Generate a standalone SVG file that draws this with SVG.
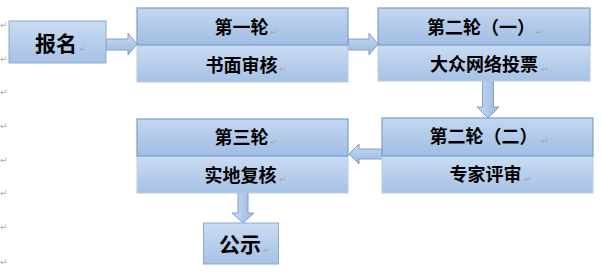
<svg xmlns="http://www.w3.org/2000/svg" width="601" height="275" viewBox="0 0 601 275">
<defs>
<linearGradient id="gBody" x1="0" y1="0" x2="0" y2="1">
<stop offset="0" stop-color="#cadcf2"/>
<stop offset="1" stop-color="#a6c1e5"/>
</linearGradient>
<linearGradient id="gHead" x1="0" y1="0" x2="0" y2="1">
<stop offset="0" stop-color="#c3d7f0"/>
<stop offset="1" stop-color="#a0bde3"/>
</linearGradient>
<linearGradient id="gArrH" x1="0" y1="0" x2="0" y2="1">
<stop offset="0" stop-color="#c9dbf2"/>
<stop offset="1" stop-color="#99b8df"/>
</linearGradient>
<linearGradient id="gArrV" x1="0" y1="0" x2="1" y2="0">
<stop offset="0" stop-color="#c9dbf2"/>
<stop offset="1" stop-color="#99b8df"/>
</linearGradient>
</defs>
<style>
.body{fill:url(#gBody);stroke:#b9cde8;stroke-width:1}
.head{fill:url(#gHead);stroke:#7d9dcb;stroke-width:1.2}
.single{fill:url(#gBody);stroke:#8aa9d3;stroke-width:1}
.arrH{fill:url(#gArrH);stroke:#7f9fcc;stroke-width:1}
.arrV{fill:url(#gArrV);stroke:#7f9fcc;stroke-width:1}
.t{font-family:"Noto Sans CJK SC","Noto Sans CJK JP",sans-serif;font-weight:bold;fill:#000;text-anchor:middle}
.t18{font-size:18px}
.t21{font-size:21px}
.pm{font-family:"DejaVu Sans",sans-serif;font-size:9px;fill:#a8a8a8}
</style>

<g id="margin-marks">
<text class="pm" x="0" y="28">↵</text>
<text class="pm" x="0" y="62">↵</text>
<text class="pm" x="0" y="95">↵</text>
<text class="pm" x="0" y="129">↵</text>
<text class="pm" x="0" y="163">↵</text>
<text class="pm" x="0" y="196">↵</text>
<text class="pm" x="0" y="230">↵</text>
<text class="pm" x="0" y="265">↵</text>
</g>

<g id="connectors">
<polygon class="arrH" points="106,39 128,39 128,33 137,44 128,55 128,50 106,50"/>
<polygon class="arrH" points="348,39 369,39 369,33 378,44 369,55 369,50 348,50"/>
<polygon class="arrV" points="482.5,81 493.5,81 493.5,107 499,107 488,118 477,107 482.5,107"/>
<polygon class="arrH" points="382,149 359,149 359,144 349,154 359,164 359,159 382,159"/>
<polygon class="arrV" points="238,193 248,193 248,213 254,213 243,223 232,213 238,213"/>
</g>

<g id="node-baoming">
<rect class="single" x="9" y="21" width="97" height="42"/>
<text class="t t21" x="56" y="51">报名</text>
<text class="pm" x="79" y="52">↵</text>
</g>

<g id="node-round1">
<rect class="body" x="137" y="45" width="211" height="37"/>
<rect class="head" x="137" y="8" width="211" height="37"/>
<text class="t t18" x="241.5" y="34">第一轮</text>
<text class="pm" x="270" y="35">↵</text>
<text class="t t18" x="241.5" y="71.5">书面审核</text>
<text class="pm" x="279" y="72">↵</text>
</g>

<g id="node-round2a">
<rect class="body" x="378" y="45" width="212" height="36"/>
<rect class="head" x="378" y="8" width="212" height="37"/>
<text class="t t18" x="481" y="34">第二轮（一）</text>
<text class="pm" x="535" y="35">↵</text>
<text class="t t18" x="484" y="71">大众网络投票</text>
<text class="pm" x="541" y="72">↵</text>
</g>

<g id="node-round2b">
<rect class="body" x="382" y="156" width="211" height="37"/>
<rect class="head" x="382" y="118" width="211" height="38"/>
<text class="t t18" x="483.5" y="143">第二轮（二）</text>
<text class="pm" x="541" y="144">↵</text>
<text class="t t18" x="485.5" y="181">专家评审</text>
<text class="pm" x="524" y="182">↵</text>
</g>

<g id="node-round3">
<rect class="body" x="137" y="156" width="211" height="37"/>
<rect class="head" x="137" y="119" width="211" height="37"/>
<text class="t t18" x="241.5" y="144">第三轮</text>
<text class="pm" x="270" y="145">↵</text>
<text class="t t18" x="240.5" y="181.5">实地复核</text>
<text class="pm" x="279" y="182">↵</text>
</g>

<g id="node-gongshi">
<rect class="single" x="203.5" y="223" width="75" height="41"/>
<text class="t t21" x="240" y="252">公示</text>
<text class="pm" x="263" y="253">↵</text>
</g>
</svg>
